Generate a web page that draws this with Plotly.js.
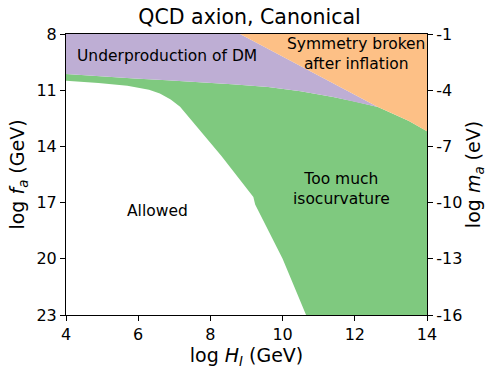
<!DOCTYPE html>
<html>
<head>
<meta charset="utf-8">
<script src="https://cdn.plot.ly/plotly-3.0.1.min.js"></script>
<style>
  html, body { margin: 0; padding: 0; background: #fff; }
  #chart { width: 499px; height: 376px; }
</style>
</head>
<body>
<div id="chart"></div>
<script>
// boundary of the isocurvature / underproduction region (top of green)
let dmTopX = [4, 5.0, 5.9, 6.8, 7.7, 8.6, 9.6, 10.5, 11.4, 12.0, 12.64, 13.0, 13.5, 14];
let dmTopY = [10.13, 10.28, 10.38, 10.47, 10.56, 10.68, 10.83, 11.05, 11.36, 11.6, 11.9, 12.2, 12.65, 13.19];

// boundary of the allowed region (white)
let allowedX = [4, 4.9, 5.7, 6.3, 6.6, 6.9, 7.16, 7.34, 8.3, 9.19, 9.22, 9.24, 10.0, 10.65];
let allowedY = [10.49, 10.62, 10.76, 10.98, 11.18, 11.5, 11.89, 12.25, 14.5, 16.7, 16.85, 17.1, 20.0, 23];

// symmetry broken after inflation line
let symX = [8.82, 12.64];
let symY = [8, 11.9];

let xTicks = [4, 6, 8, 10, 12, 14];
let yTicks = [8, 11, 14, 17, 20, 23];
let maTicks = [-1, -4, -7, -10, -13, -16];
let maLabels = ["-1", "-4", "-7", "-10", "-13", "-16"];

let dmTopXrev = dmTopX.slice().reverse();
let dmTopYrev = dmTopY.slice().reverse();
let iSym = dmTopX.indexOf(symX[1]);

// green: below dm top, above allowed
let greenX = dmTopX.concat([14]).concat(allowedX.slice().reverse());
let greenY = dmTopY.concat([23]).concat(allowedY.slice().reverse());

// purple: top-left
let purpleX = [4, symX[0], symX[1]].concat(dmTopX.slice(0, iSym).reverse());
let purpleY = [8, symY[0], symY[1]].concat(dmTopY.slice(0, iSym).reverse());

// orange: top-right
let orangeX = [symX[0], 14].concat(dmTopXrev.slice(0, dmTopX.length - iSym));
let orangeY = [8, 8].concat(dmTopYrev.slice(0, dmTopY.length - iSym));

function region(xs, ys, color) {
    return {
        x: xs, y: ys, type: "scatter", mode: "lines",
        fill: "toself", fillcolor: color,
        line: { width: 0, color: color },
        hoverinfo: "skip", showlegend: false
    };
}

let data = [
    region(greenX, greenY, "#7fc97f"),
    region(purpleX, purpleY, "#beaed4"),
    region(orangeX, orangeY, "#fdc086"),
    { x: [4], y: [-1], yaxis: "y2", type: "scatter", mode: "markers",
      marker: { opacity: 0 }, hoverinfo: "skip", showlegend: false }
];

let font = { family: "DejaVu Sans, sans-serif", color: "#000" };

let layout = {
    width: 499, height: 376,
    margin: { l: 66, r: 72, t: 34, b: 61 },
    paper_bgcolor: "#fff", plot_bgcolor: "#fff",
    font: font,
    title: { text: "QCD axion, Canonical", x: 0.5, xanchor: "center", y: 0.955, yanchor: "middle",
             font: { family: font.family, size: 20.5, color: "#000" } },
    xaxis: {
        range: [4, 14], tickvals: xTicks, ticks: "outside", ticklen: 5, tickcolor: "#000",
        showline: true, linecolor: "#000", linewidth: 1, mirror: true,
        showgrid: false, zeroline: false, tickfont: { size: 16 },
        title: { text: "log <i>H<sub>I</sub></i> (GeV)", font: { size: 19 }, standoff: 5 }
    },
    yaxis: {
        range: [23, 8], tickvals: yTicks, ticks: "outside", ticklen: 5, tickcolor: "#000",
        showline: true, linecolor: "#000", linewidth: 1, mirror: true,
        showgrid: false, zeroline: false, tickfont: { size: 16 },
        title: { text: "log <i>f<sub>a</sub></i> (GeV)", font: { size: 19 }, standoff: 6 }
    },
    yaxis2: {
        overlaying: "y", side: "right", range: [-16, -1],
        tickvals: maTicks, ticktext: maLabels, ticks: "outside", ticklen: 5, tickcolor: "#000",
        showgrid: false, zeroline: false, tickfont: { size: 16 },
        title: { text: "log <i>m<sub>a</sub></i> (eV)", font: { size: 19 }, standoff: 4 }
    },
    annotations: [
        { x: 6.8, y: 9.19, text: "Underproduction of DM", showarrow: false, font: { size: 15.5 } },
        { x: 12.03, y: 9.05, text: "Symmetry broken<br>after inflation", showarrow: false, font: { size: 15.5 } },
        { x: 11.64, y: 16.25, text: "Too much<br>isocurvature", showarrow: false, font: { size: 15.5 } },
        { x: 6.53, y: 17.44, text: "Allowed", showarrow: false, font: { size: 15.5 } }
    ]
};

Plotly.newPlot("chart", data, layout, { staticPlot: true });
</script>
</body>
</html>
